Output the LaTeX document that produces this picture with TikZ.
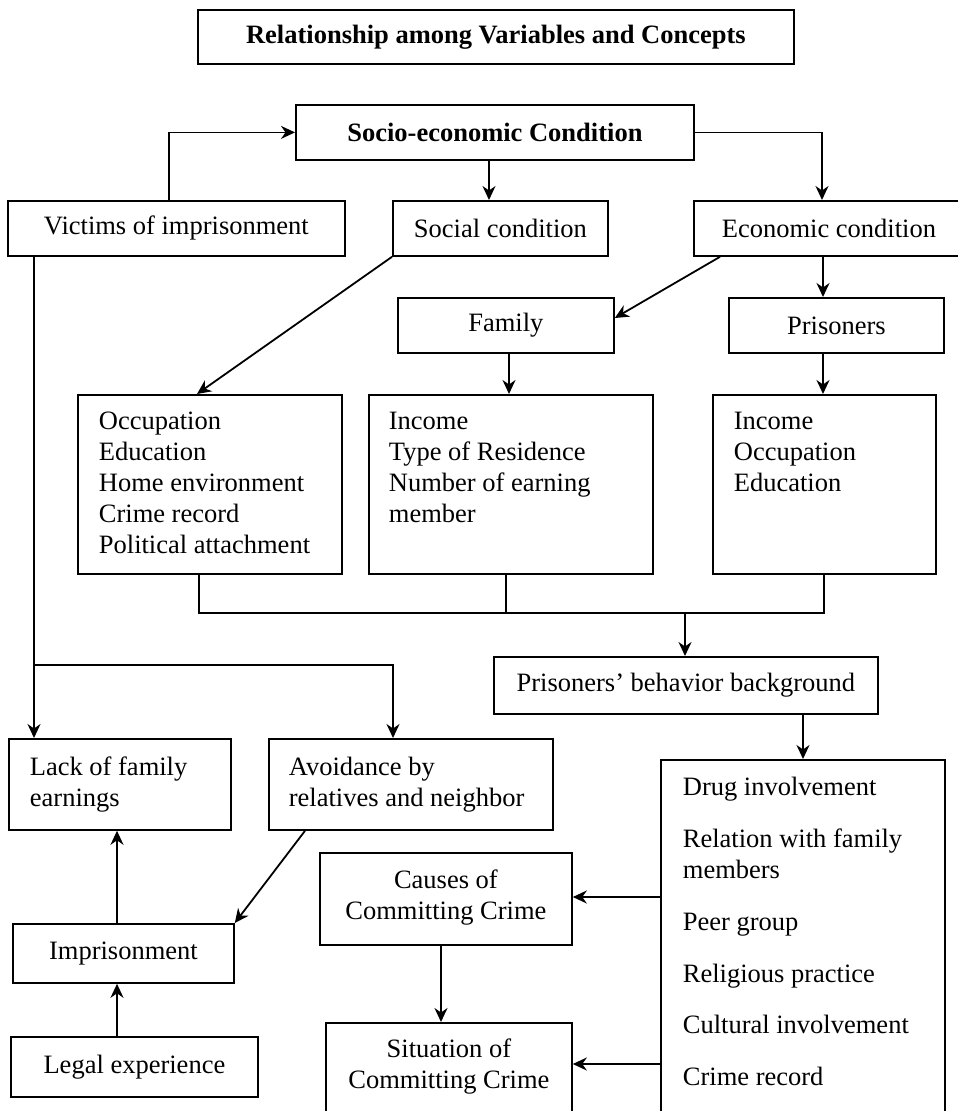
\documentclass[tikz,border=0pt]{standalone}
\usepackage{fontspec}
\setmainfont{Liberation Serif}
\usetikzlibrary{arrows.meta,calc}
\newcommand\tbx[4]{\parbox[c][#2][t]{#1}{\vspace*{#3}#4}}
\begin{document}
\begin{tikzpicture}[x=1pt,y=-1pt,
  font=\fontsize{26.5}{30.8}\selectfont,
  bx/.style={draw, line width=1.8pt, inner sep=0pt, anchor=north west},
  arr/.style={line width=1.8pt, -{Stealth[length=14pt,width=13pt,inset=4.5pt]}},
  ln/.style={line width=1.8pt}]
\useasboundingbox (0,0) rectangle (958,1111);
\clip (0,0) rectangle (958,1111);
% nodes
\node[bx, minimum width=596pt, minimum height=54pt, font=\fontsize{26.5}{30.8}\selectfont\bfseries] (title) at (197,9) {Relationship among Variables and Concepts};
\node[bx, minimum width=398pt, minimum height=55pt, font=\fontsize{26.5}{30.8}\selectfont\bfseries] (socio) at (295,104) {Socio-economic Condition};
\node[bx, minimum width=337pt, minimum height=55pt] (victims) at (7,200) {Victims of imprisonment};
\node[bx, minimum width=215pt, minimum height=55pt] (social) at (392,200) {Social condition};
\node[bx, minimum width=270pt, minimum height=55pt] (econ) at (693,200) {Economic condition};
\node[bx, minimum width=216pt, minimum height=55pt] (family) at (397,297) {Family};
\node[bx, minimum width=215pt, minimum height=55pt] (prisoners) at (728,297) {Prisoners};
\node[bx] (occ) at (77,394) {\tbx{264pt}{179pt}{13.4pt}{\raggedright\leftskip=21pt\strut Occupation\\Education\\Home environment\\Crime record\\Political attachment}};
\node[bx] (inc) at (368,394) {\tbx{284pt}{179pt}{13.4pt}{\raggedright\leftskip=20pt\strut Income\\Type of Residence\\Number of earning\\member}};
\node[bx] (pinc) at (712,394) {\tbx{223pt}{179pt}{13.4pt}{\raggedright\leftskip=21pt\strut Income\\Occupation\\Education}};
\node[bx, minimum width=384pt, minimum height=57pt] (pbb) at (493,656) {Prisoners’ behavior background};
\node[bx] (drug) at (660,759) {\tbx{284pt}{400pt}{14.4pt}{\raggedright\leftskip=22pt\strut Drug involvement\\[21pt]Relation with family\\members\\[21pt]Peer group\\[21pt]Religious practice\\[21pt]Cultural involvement\\[21pt]Crime record}};
\node[bx] (lack) at (8,738) {\tbx{222pt}{91pt}{15.4pt}{\raggedright\leftskip=21pt\strut Lack of family\\earnings}};
\node[bx] (avoid) at (268,738) {\tbx{284pt}{91pt}{15.4pt}{\raggedright\leftskip=20pt\strut Avoidance by\\relatives and neighbor}};
\node[bx] (causes) at (319,852) {\tbx{252pt}{92pt}{14.4pt}{\centering\strut Causes of\\Committing Crime}};
\node[bx] (sit) at (325,1022) {\tbx{246pt}{120pt}{13.4pt}{\centering\strut Situation of\\Committing Crime}};
\node[bx, minimum width=221pt, minimum height=59pt] (impr) at (12,923) {Imprisonment};
\node[bx, minimum width=247pt, minimum height=60pt] (legal) at (10,1036) {Legal experience};
% helper coordinates
\coordinate (vx) at (169,0);
\coordinate (sx) at (489,0);
\coordinate (ex) at (822,0);
\coordinate (px) at (823,0);
\coordinate (fx) at (509,0);
\coordinate (o1) at (199,0);
\coordinate (i1) at (506,0);
\coordinate (p1) at (824,0);
\coordinate (j) at (685,613);
\coordinate (dx) at (803,0);
\coordinate (cy) at (0,897);
\coordinate (sy) at (0,1064);
\coordinate (cx) at (441,0);
\coordinate (lx) at (34,0);
\coordinate (by) at (0,665);
\coordinate (ax) at (393,0);
\coordinate (mx) at (117,0);
% connectors
\draw[arr] (vx |- victims.north) |- (socio.west);
\draw[arr] (sx |- socio.south) -- (sx |- social.north);
\draw[arr] (socio.east) -| (ex |- econ.north);
\draw[arr] ($(econ.south west)+(27,0)$) -- ($(family.north east)+(0,21)$);
\draw[arr] (px |- econ.south) -- (px |- prisoners.north);
\draw[arr] (social.south west) -- ($(occ.north west)+(120,0)$);
\draw[arr] (fx |- family.south) -- (fx |- inc.north);
\draw[arr] (px |- prisoners.south) -- (px |- pinc.north);
\draw[ln] (o1 |- occ.south) |- (p1 |- j) -- (p1 |- pinc.south);
\draw[ln] (i1 |- inc.south) -- (i1 |- j);
\draw[arr] (j) -- (j |- pbb.north);
\draw[arr] (dx |- pbb.south) -- (dx |- drug.north);
\draw[arr] (cy -| drug.west) -- (cy -| causes.east);
\draw[arr] (sy -| drug.west) -- (sy -| sit.east);
\draw[arr] (cx |- causes.south) -- (cx |- sit.north);
\draw[arr] (lx |- victims.south) -- (lx |- lack.north);
\draw[arr] (lx |- by) -| (ax |- avoid.north);
\draw[arr] ($(avoid.south west)+(37,0)$) -- (impr.north east);
\draw[arr] (mx |- impr.north) -- (mx |- lack.south);
\draw[arr] (mx |- legal.north) -- (mx |- impr.south);
\end{tikzpicture}
\end{document}
